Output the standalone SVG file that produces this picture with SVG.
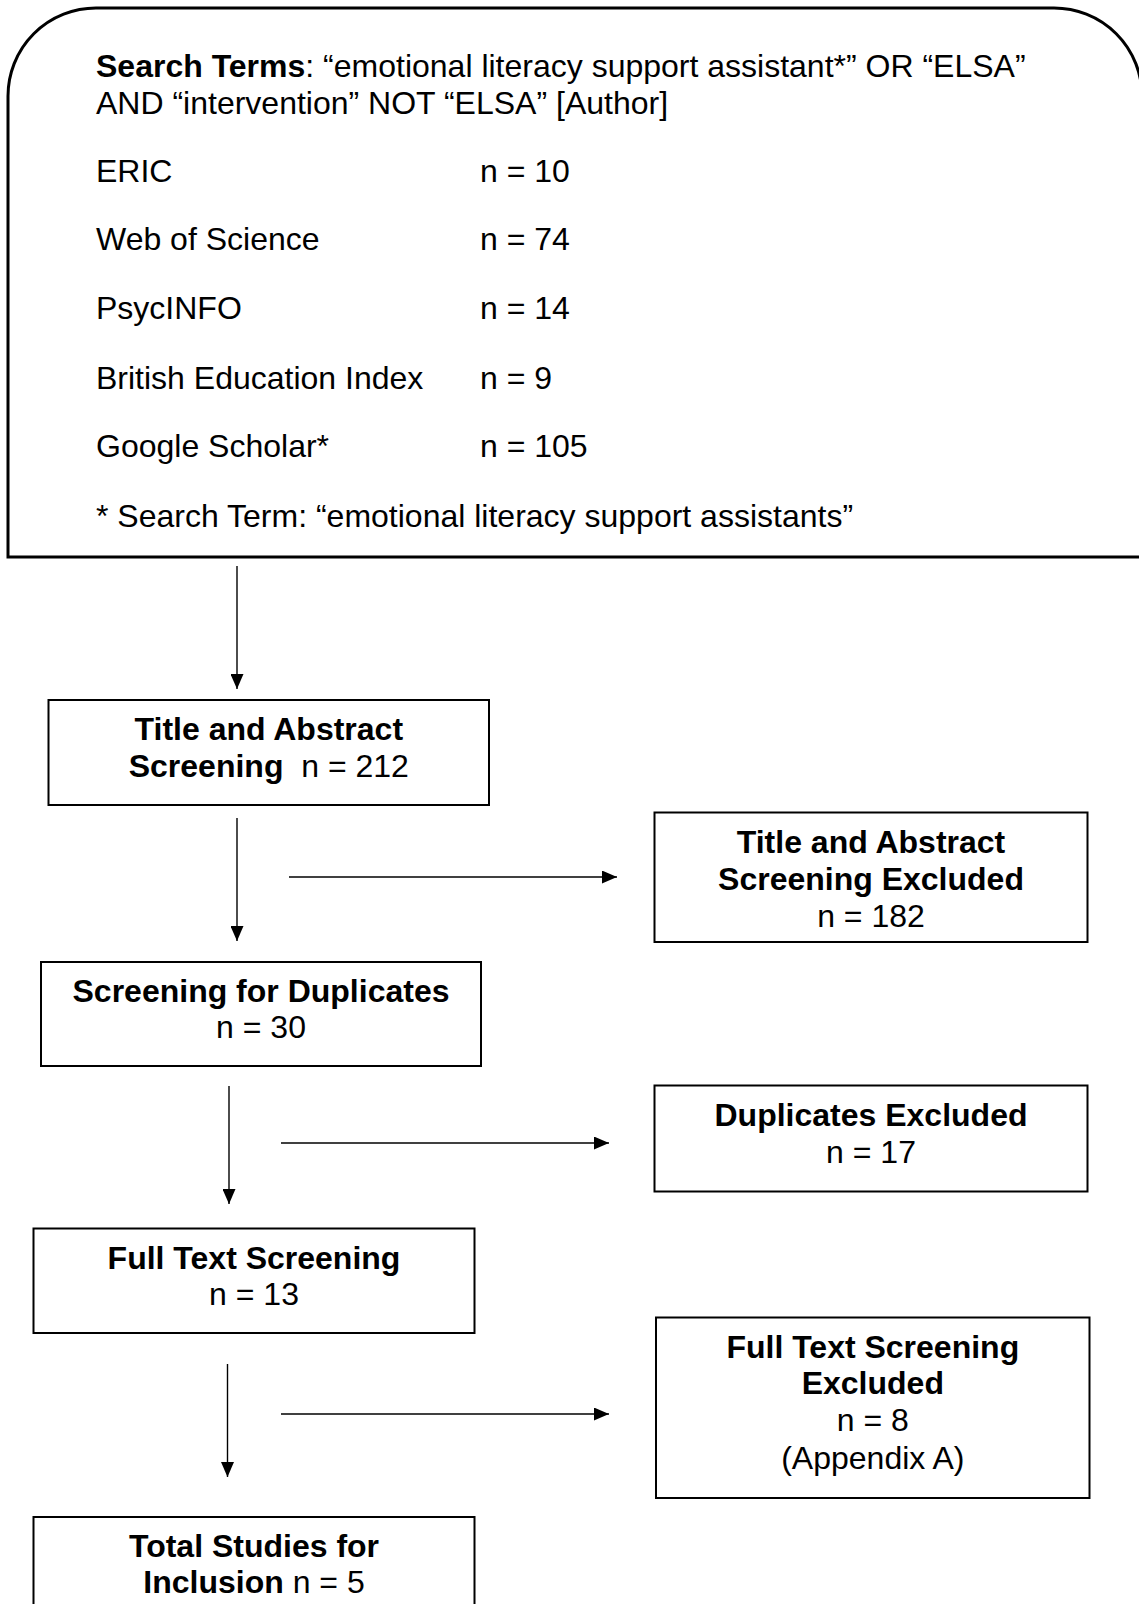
<svg xmlns="http://www.w3.org/2000/svg" width="1139" height="1604" viewBox="0 0 1139 1604">
<style>
text{font-family:"Liberation Sans",Arial,sans-serif;font-size:32px;fill:#000}
.b{font-weight:bold}
.box{fill:#fff;stroke:#000;stroke-width:2}
.c{text-anchor:middle}
.conn{stroke:#000;stroke-width:1.4;fill:none;marker-end:url(#ah)}
</style>
<defs>
<marker id="ah" markerUnits="userSpaceOnUse" markerWidth="15" markerHeight="13" refX="15" refY="6.5" orient="auto" viewBox="0 0 15 13">
<path d="M0,0 L15,6.5 L0,13 Z" fill="#000"/>
</marker>
</defs>
<rect width="1139" height="1604" fill="#fff"/>
<g id="search">
<path d="M8,557 L8,96 A88,88 0 0 1 96,8 L1054,8 A88,88 0 0 1 1142,96 L1142,557 Z" fill="#fff" stroke="#000" stroke-width="3"/>
<text x="96" y="77"><tspan class="b">Search Terms</tspan>: “emotional literacy support assistant*” OR “ELSA”</text>
<text x="96" y="114">AND “intervention” NOT “ELSA” [Author]</text>
<text x="96" y="182">ERIC</text><text x="480" y="182">n = 10</text>
<text x="96" y="250">Web of Science</text><text x="480" y="250">n = 74</text>
<text x="96" y="319">PsycINFO</text><text x="480" y="319">n = 14</text>
<text x="96" y="389">British Education Index</text><text x="480" y="389">n = 9</text>
<text x="96" y="457">Google Scholar*</text><text x="480" y="457">n = 105</text>
<text x="96" y="527">* Search Term: “emotional literacy support assistants”</text>
</g>
<g id="connectors">
<line class="conn" x1="237" y1="566" x2="237" y2="689"/>
<line class="conn" x1="237" y1="818" x2="237" y2="941"/>
<line class="conn" x1="289" y1="877" x2="617" y2="877"/>
<line class="conn" x1="229" y1="1086" x2="229" y2="1204"/>
<line class="conn" x1="281" y1="1143" x2="609" y2="1143"/>
<line class="conn" x1="227.5" y1="1364" x2="227.5" y2="1477"/>
<line class="conn" x1="281" y1="1414" x2="609" y2="1414"/>
</g>
<g id="title-abstract">
<rect class="box" x="48.5" y="700" width="440.5" height="105"/>
<text class="c" x="268.8" y="740"><tspan class="b">Title and Abstract</tspan></text>
<text class="c" x="268.8" y="777"><tspan class="b">Screening</tspan>&#160; n = 212</text>
</g>
<g id="ta-excluded">
<rect class="box" x="654.5" y="812.5" width="433" height="129.5"/>
<text class="c b" x="871" y="853">Title and Abstract</text>
<text class="c b" x="871" y="890">Screening Excluded</text>
<text class="c" x="871" y="927">n = 182</text>
</g>
<g id="duplicates">
<rect class="box" x="41" y="962" width="440" height="104"/>
<text class="c b" x="261" y="1002">Screening for Duplicates</text>
<text class="c" x="261" y="1038">n = 30</text>
</g>
<g id="dup-excluded">
<rect class="box" x="654.5" y="1085.5" width="433" height="106"/>
<text class="c b" x="871" y="1126">Duplicates Excluded</text>
<text class="c" x="871" y="1162.5">n = 17</text>
</g>
<g id="full-text">
<rect class="box" x="33.5" y="1228.5" width="441" height="104.5"/>
<text class="c b" x="254" y="1268.5">Full Text Screening</text>
<text class="c" x="254" y="1305">n = 13</text>
</g>
<g id="ft-excluded">
<rect class="box" x="656" y="1317.5" width="433.5" height="180.5"/>
<text class="c b" x="872.8" y="1358">Full Text Screening</text>
<text class="c b" x="872.8" y="1394">Excluded</text>
<text class="c" x="872.8" y="1431">n = 8</text>
<text class="c" x="872.8" y="1468.5">(Appendix A)</text>
</g>
<g id="total">
<rect class="box" x="33.5" y="1517" width="441" height="120"/>
<text class="c b" x="254" y="1557">Total Studies for</text>
<text class="c" x="254" y="1593"><tspan class="b">Inclusion</tspan> n = 5</text>
</g>
</svg>
